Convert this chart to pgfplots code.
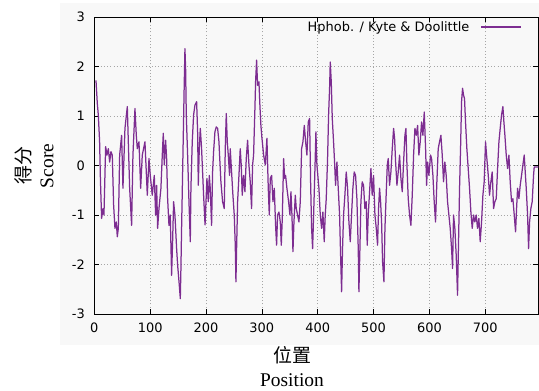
\documentclass[border=0pt]{standalone}
\usepackage{pgfplots}
\pgfplotsset{compat=1.18}
\usepackage{fontspec}
\setmainfont{Liberation Serif}
\newfontfamily\dejavu{DejaVu Sans}
\newfontfamily\cjk{Noto Sans CJK SC}
\definecolor{kd}{RGB}{125,45,145}
\definecolor{bgc}{RGB}{248,248,248}
\pgfplotstableread{
pos val
3 1.72
5.4 1.25
7.2 1.02
9.5 0.48
11 -0.30
13.1 -1.07
15.5 -0.87
17.3 -1.00
20.3 0.38
22.7 0.21
25.1 0.34
27.5 0.07
29.8 0.28
32.2 0.21
34.6 -0.80
37.0 -1.27
39.4 -1.14
41.2 -1.44
43.0 -1.27
45.4 0.21
48.9 0.61
51.3 -0.46
54.9 0.75
59.1 1.19
60.9 0.48
63.3 -0.46
66.8 -1.21
69.2 0.21
72.8 1.15
75.2 0.61
77.0 0.34
80.0 0.48
83.0 -0.46
85.9 0.21
90.7 0.48
94.9 -0.60
97.9 0.14
100.2 -0.20
103.8 -0.60
107.4 -0.20
109.8 -1.00
111.6 -0.40
113.4 -1.27
115.8 -0.87
119.3 -0.46
121.7 0.21
123.5 0.65
125.3 0.01
127.7 0.51
129.5 0.14
131.3 -0.67
133.7 -1.21
136.0 -1.00
138.4 -2.22
140.2 -1.54
142.0 -0.73
144.4 -1.00
147.4 -1.68
149.2 -2.01
152.2 -2.42
154.0 -2.69
155.1 -2.08
156.3 -1.27
158.7 0.21
159.9 0.95
161.1 1.69
162.3 2.36
163.5 1.96
164.7 1.02
167.1 0.21
169.5 -0.73
171.9 -1.54
173.0 -0.46
175.4 0.48
177.8 1.02
180.2 1.22
183.2 1.29
185.0 0.68
186.2 -0.40
188.0 0.34
189.8 0.75
192.1 0.34
193.9 -0.13
195.7 -0.60
198.3 -1.20
201.7 -0.26
204.1 -0.73
205.9 -0.20
207.6 -0.46
210.0 -1.21
211.8 -0.13
213.6 0.28
216.0 0.68
218.4 0.78
220.8 0.75
223.2 0.48
224.3 0.21
226.7 -0.33
229.7 -0.73
232.7 -0.87
234.5 0.34
236.3 1.05
238.1 0.48
239.9 0.21
242.2 -0.20
243.4 0.34
245.8 -0.13
248.2 -0.60
250.6 -1.00
252.4 -1.61
253.6 -2.35
254.8 -1.68
256.6 -0.73
259.0 -0.20
261.3 0.34
263.1 0.01
264.9 -0.60
267.3 -0.20
269.7 -0.53
272.1 0.14
274.5 0.51
276.9 0.01
279.2 -0.33
281.6 -0.87
283.4 0.01
285.2 0.21
287.6 1.15
288.8 1.69
290.6 2.13
292.4 1.62
294.8 1.69
296.5 1.22
298.3 0.81
300.2 0.55
303.2 0.21
306.2 0.01
309.1 0.55
311.5 -0.46
313.3 -1.00
315.1 -0.26
317.5 -0.20
319.9 -0.73
322.3 -0.46
324.6 -1.21
326.4 -1.61
328.2 -1.00
330.6 -0.94
333.0 -1.14
334.8 -1.61
336.6 -1.07
339.0 0.14
340.8 -0.26
342.5 -0.20
344.9 -0.46
347.9 -0.73
350.3 -1.00
352.1 -0.53
353.9 -1.00
355.7 -1.74
357.5 -1.14
359.9 -0.60
361.6 -0.87
364.0 -1.00
366.4 -1.14
368.8 -0.73
371.2 0.34
373.6 0.48
376.0 0.81
378.4 0.48
380.7 0.21
383.1 0.88
385.5 0.95
387.3 -0.33
389.1 -1.27
390.9 -1.68
392.7 -1.00
395.1 -0.06
396.8 0.68
398.6 0.01
402.2 -0.46
404.6 -1.00
407.0 -1.27
409.3 -0.94
411.7 -1.54
413.5 -1.00
415.3 -0.67
417.7 0.14
419.5 1.02
421.3 1.56
422.5 2.09
424.3 1.69
426.1 0.95
428.4 0.48
430.2 0.07
432.0 -0.40
434.4 0.07
436.8 -0.46
439.2 -1.00
441.0 -1.81
442.8 -2.55
444.5 -1.68
446.3 -1.00
448.7 -0.60
451.1 -0.13
453.5 -0.46
455.9 -1.14
458.3 -1.54
460.6 -1.00
463.0 -0.46
465.4 -0.13
467.8 -0.20
470.2 -0.67
472.6 -1.68
473.8 -2.55
475.6 -1.68
477.4 -0.73
479.7 -0.33
482.1 -0.40
484.5 -0.87
486.9 -0.73
488.7 -1.61
490.5 -1.00
492.9 -0.53
495.3 -0.06
497.6 -0.60
500.0 -0.20
502.5 -1.00
504.9 -1.27
507.2 -1.61
509.0 -0.87
510.8 -0.46
512.6 -0.73
514.4 -1.14
516.2 -1.95
518.6 -2.35
520.4 -1.27
522.8 -0.53
524.6 0.01
526.3 0.14
528.7 -0.40
531.1 -0.13
533.5 0.34
535.9 0.75
537.7 0.55
539.5 0.07
541.9 -0.40
544.2 -0.13
546.6 0.21
549.0 -0.26
551.4 -0.53
553.8 0.07
556.2 0.61
558.0 0.75
559.8 0.01
562.1 -0.67
564.5 -1.00
566.9 -1.21
569.3 -0.60
571.7 0.21
574.1 0.75
576.5 0.61
578.9 0.81
581.2 0.21
583.6 0.48
586.0 0.88
588.4 0.61
590.8 1.08
593.2 0.34
595.0 -0.40
596.8 0.07
599.1 -0.20
602.1 0.21
603.9 0.14
606.3 -0.20
608.6 -0.73
611.0 -1.14
613.4 -0.33
615.8 0.34
618.2 0.48
620.6 0.61
623.0 0.21
625.3 -0.33
627.7 0.07
630.1 -0.20
632.5 -0.73
634.9 -1.00
637.3 -1.27
639.7 -1.68
641.5 -2.08
643.2 -1.00
645.6 -1.27
648.0 -1.81
650.4 -2.62
652.2 -1.54
654.0 -0.46
655.8 0.34
657.6 1.29
659.4 1.56
661.2 1.42
662.9 1.35
664.7 0.88
667.1 0.34
669.5 -0.06
671.9 -0.46
674.3 -0.94
676.7 -1.27
679.1 -1.00
681.4 -1.14
683.8 -1.00
686.2 -1.27
688.6 -1.07
691.0 -1.54
693.4 -1.14
695.8 -0.60
698.1 -0.33
700.5 0.48
702.9 0.14
705.4 -0.20
707.7 -0.60
710.1 -0.33
712.5 -0.13
714.9 -0.87
717.3 -0.73
719.7 -0.67
722.1 -0.06
724.5 0.48
726.8 0.75
729.2 1.02
731.6 1.19
733.4 0.88
735.2 0.61
737.6 0.21
740.0 -0.06
742.4 0.21
744.7 -0.33
747.1 -0.73
749.5 -0.67
751.9 -1.00
754.3 -1.34
756.1 -0.87
757.9 -0.46
760.3 -0.67
762.6 -0.40
765.0 -0.20
767.4 0.01
769.8 0.21
771.6 -0.13
773.4 -0.46
775.8 -1.00
777.6 -1.68
779.4 -1.14
781.7 -0.87
784.1 -0.73
786.5 -0.20
787.7 -0.03
795 -0.03
}\kdtable
\begin{document}
\begin{tikzpicture}
\useasboundingbox (0,0) rectangle (539bp,391bp);
\fill[bgc] (60bp,46bp) rectangle (539bp,388bp);
\begin{axis}[at={(94.3bp,77bp)}, anchor=south west, scale only axis,
  width=444bp, height=297bp,
  xmin=0, xmax=795, ymin=-3, ymax=3,
  xtick={0,100,200,300,400,500,600,700}, ytick={-3,-2,-1,0,1,2,3},
  xticklabels={0,100,200,300,400,500,600,700},
  yticklabels={-3,-2,-1,0,1,2,3},
  tick align=inside, major tick length=5bp,
  tick style={black, line width=0.6bp},
  axis line style={black, line width=0.8bp},
  grid=major, grid style={gray!70, dash pattern=on 1bp off 2.2bp, line width=0.5bp},
  ticklabel style={font=\dejavu\fontsize{13}{15}\selectfont},
  yticklabel style={xshift=-6bp},
  xticklabel style={yshift=-5bp},
  legend style={at={(0.963,0.993)}, anchor=north east, draw=none, fill=none,
    font=\dejavu\fontsize{13}{15}\selectfont, inner sep=0pt},
  legend plot pos=right,
  legend image code/.code={\draw[#1] (0bp,0bp) -- (40bp,0bp);},
  axis background/.style={fill=bgc}]
\addplot[kd, line width=1.25bp, line join=round] table[x=pos, y=val] {\kdtable};
\addlegendentry{Hphob. / Kyte \& Doolittle\rule{9bp}{0pt}}
\end{axis}
\node[rotate=90] at (23bp,225bp) {\cjk\fontsize{19}{20}\selectfont 得分};
\node[rotate=90] at (47bp,225bp) {\fontsize{19.5}{20}\selectfont Score};
\node at (292bp,36bp) {\cjk\fontsize{19}{20}\selectfont 位置};
\node at (292bp,11bp) {\fontsize{19.5}{20}\selectfont Position};
\end{tikzpicture}
\end{document}
